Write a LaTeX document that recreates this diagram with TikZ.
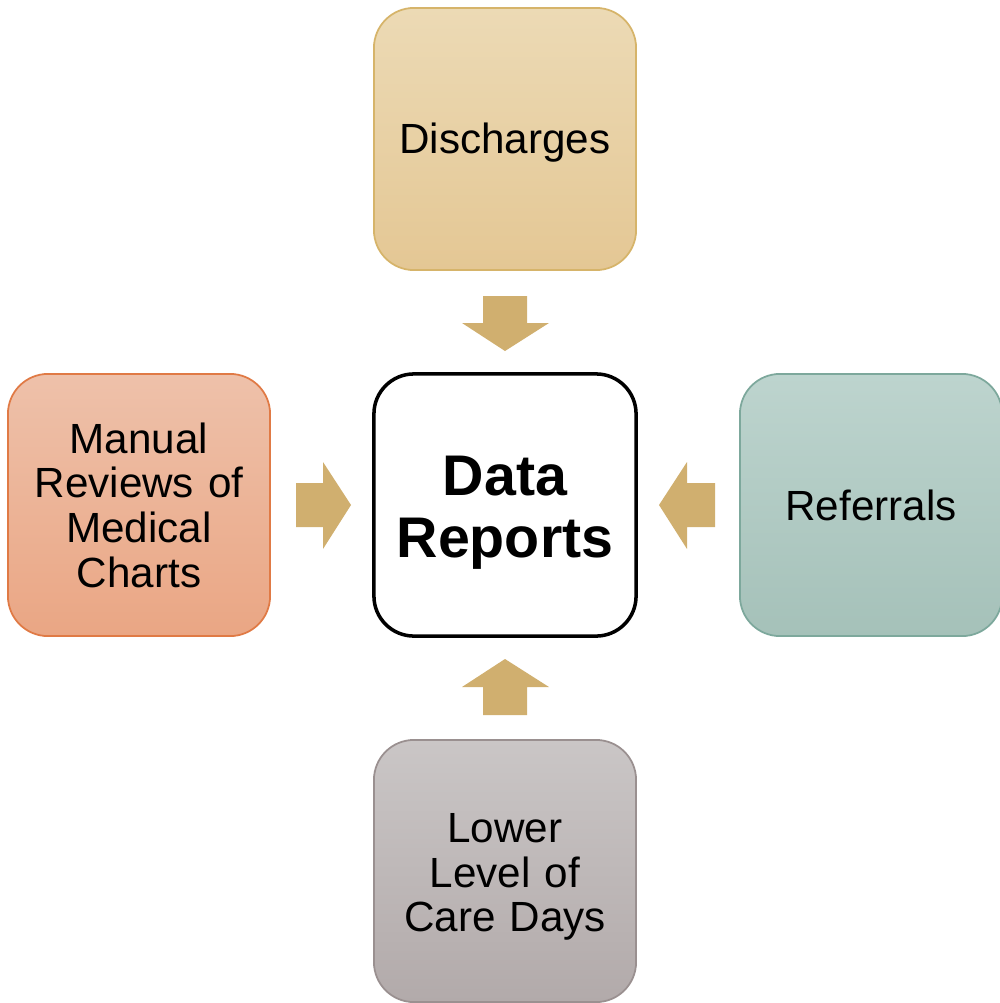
\documentclass[tikz,border=0pt]{standalone}
\usepackage{fontspec}
\setmainfont{Liberation Sans}
\begin{document}
\begin{tikzpicture}[x=0.01cm,y=-0.01cm,
  box/.style={rounded corners=0.4cm, minimum width=2.62cm, minimum height=2.62cm, inner sep=0pt,
    align=center, text width=2.4cm, font=\fontsize{12}{12.7}\selectfont, line width=0.5pt},
  disch/.style={box, draw={rgb,255:red,214;green,180;blue,106}, top color={rgb,255:red,236;green,218;blue,181}, bottom color={rgb,255:red,228;green,199;blue,148}},
  manual/.style={box, draw={rgb,255:red,224;green,122;blue,69}, top color={rgb,255:red,238;green,193;blue,170}, bottom color={rgb,255:red,234;green,166;blue,132}},
  refer/.style={box, draw={rgb,255:red,125;green,168;blue,156}, top color={rgb,255:red,189;green,212;blue,206}, bottom color={rgb,255:red,165;green,193;blue,185}},
  lower/.style={box, draw={rgb,255:red,154;green,144;blue,144}, top color={rgb,255:red,202;green,198;blue,198}, bottom color={rgb,255:red,178;green,170;blue,170}},
  center/.style={box, draw=black, line width=1pt, fill=white, font=\fontsize{16.3}{17.6}\selectfont\bfseries},
  blockarrow/.style={fill={rgb,255:red,208;green,175;blue,111}, draw=none}
]
\useasboundingbox (0,0) rectangle (1000,1003);
\node[disch]  (top)    at (505,139) {\rule{0pt}{0.37cm}Discharges};
\node[center] (mid)    at (505,505) {\rule{0pt}{0.54cm}Data\\Reports};
\node[manual] (left)   at (139,505) {Manual\\Reviews of\\Medical\\Charts};
\node[refer]  (right)  at (871,505) {Referrals};
\node[lower]  (bottom) at (505,871) {\rule{0pt}{0.41cm}Lower\\Level of\\Care Days};
% block arrows
\fill[blockarrow] (483,296) -- (527,296) -- (527,323) -- (549,323) -- (505,351) -- (462,323) -- (483,323) -- cycle;
\fill[blockarrow] (296,483) -- (296,527) -- (323,527) -- (323,549) -- (351,505) -- (323,462) -- (323,483) -- cycle;
\fill[blockarrow] (715,483) -- (715,527) -- (687,527) -- (687,549) -- (659,505) -- (687,462) -- (687,483) -- cycle;
\fill[blockarrow] (483,715) -- (527,715) -- (527,687) -- (549,687) -- (505,659) -- (462,687) -- (483,687) -- cycle;
\end{tikzpicture}
\end{document}
